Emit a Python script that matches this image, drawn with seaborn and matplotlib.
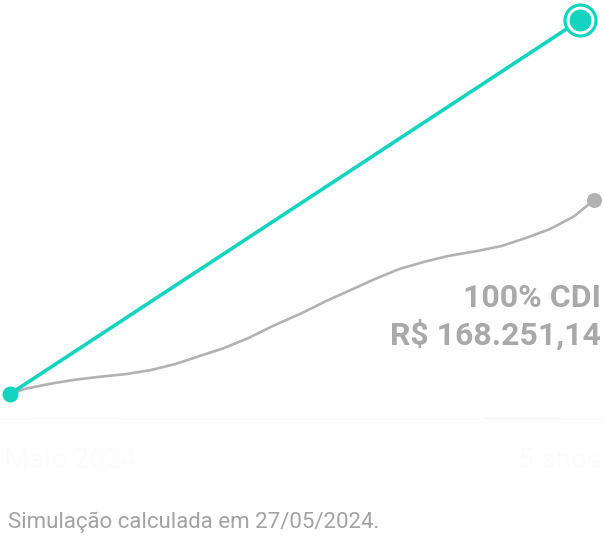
#!/usr/bin/env python3
"""Investment simulation: CDB line vs 100% CDI over 5 years."""

import matplotlib.pyplot as plt
import pandas as pd
import seaborn as sns
from matplotlib.lines import Line2D

# months from start, balance in R$
cdi_months = [0, 1.5, 4, 6.5, 9, 12, 14.5, 17, 19.5, 22, 24.5, 27, 30, 32.5, 35,
              37.5, 40, 42.5, 45, 48, 50.5, 53, 55.5, 58, 60]
cdi_values = [100000, 101760, 103520, 104930, 105980, 107040, 108440, 110550,
              113370, 116180, 119700, 123920, 128500, 132720, 136590, 140460,
              143980, 146440, 148550, 150310, 152070, 154880, 158050, 162620,
              168251.14]

product_months = [0, 58.6]
product_values = [100000, 231600]

start_label = "Maio 2024"
end_label = "5 anos"
cdi_label = "100% CDI"
cdi_amount = "R$ 168.251,14"
footer = "Simulação calculada em 27/05/2024."

TEAL = "#14d4c0"
GRAY = "#b2b2b2"
TEXT_GRAY = "#a9a9a9"

W, H = 604, 538


def fx(px):
    return px / W


def fy(py):
    return 1 - py / H


sns.set_theme(style="white")
plt.rcParams["font.family"] = ["Roboto", "DejaVu Sans"]

fig = plt.figure(figsize=(W / 100, H / 100), dpi=100)
fig.patch.set_facecolor("white")
ax = fig.add_axes([0, 0, 1, 1])
ax.set_axis_off()

cdi = pd.DataFrame({"month": cdi_months, "value": cdi_values})
prod = pd.DataFrame({"month": product_months, "value": product_values})

sns.lineplot(data=cdi, x="month", y="value", ax=ax, color=GRAY, linewidth=1.9, zorder=2)
sns.lineplot(data=prod, x="month", y="value", ax=ax, color=TEAL, linewidth=2.6, zorder=3)

# end markers
ax.plot(cdi_months[-1], cdi_values[-1], "o", ms=10.8, color=GRAY, mec="none", zorder=4)
ax.plot(product_months[0], product_values[0], "o", ms=11.5, color=TEAL, mec="none", zorder=5)
ax.plot(product_months[-1], product_values[-1], "o", ms=22.3, mfc="white", mec=TEAL,
        mew=2.3, zorder=5)
ax.plot(product_months[-1], product_values[-1], "o", ms=15.8, color=TEAL, mec="none", zorder=6)

# map data to the pixel layout: x 10px -> month 0, 594px -> month 60
px_per_month = 584 / 60
ax.set_xlim(-10 / px_per_month, 60 + 10 / px_per_month)
px_per_real = (394 - 200) / (cdi_values[-1] - cdi_values[0])
ax.set_ylim(cdi_values[0] - (H - 394) / px_per_real, cdi_values[0] + 394 / px_per_real)

# faint axis decorations
for x0, x1, y, c in [(0, 604, 418, "#fafafa"), (38, 113, 422, "#f3f3f3"),
                     (485, 558, 418, "#f3f3f3"), (0, 604, 422, "#fbfbfb")]:
    fig.add_artist(Line2D([fx(x0), fx(x1)], [fy(y), fy(y)], color=c, lw=0.8))

fig.text(fx(5), fy(468), start_label, fontsize=20, color="#fcfcfc", ha="left", va="baseline")
fig.text(fx(601), fy(468), end_label, fontsize=20, color="#fcfcfc", ha="right", va="baseline")

fig.text(fx(601), fy(307), cdi_label, fontsize=23, fontweight="bold", color=TEXT_GRAY,
         ha="right", va="baseline")
fig.text(fx(601), fy(345), cdi_amount, fontsize=23, fontweight="bold", color=TEXT_GRAY,
         ha="right", va="baseline")

fig.text(fx(8), fy(528), footer, fontsize=16, color="#a3a3a3", ha="left", va="baseline")

fig.savefig("out.png", dpi=100, facecolor="white")
plt.close(fig)
